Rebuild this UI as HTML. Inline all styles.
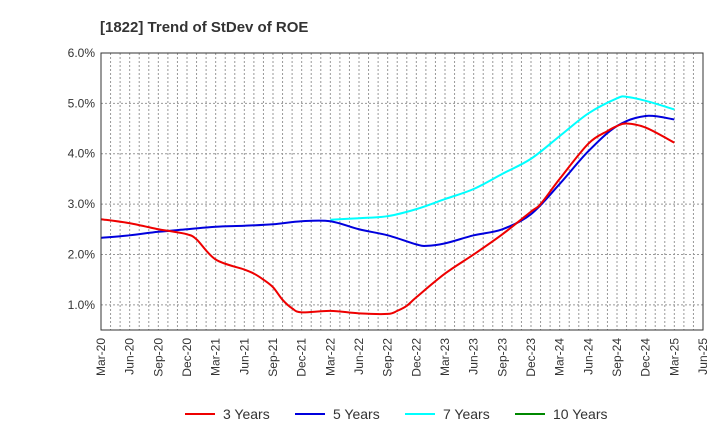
<!DOCTYPE html>
<html><head><meta charset="utf-8"><style>
body{margin:0;background:#fff;font-family:"Liberation Sans",Arial,sans-serif}
svg text{font-family:"Liberation Sans",Arial,sans-serif}
</style></head><body>
<svg id="chart" width="720" height="440">
<text x="100" y="32" font-size="15" font-weight="bold" fill="#333">[1822]  Trend of StDev of ROE</text>
<g id="grid"></g><g id="series"></g><g id="axes"></g>
<g id="legend"></g>
</svg>
<script>
const xLabels=["Mar-20","Jun-20","Sep-20","Dec-20","Mar-21","Jun-21","Sep-21","Dec-21","Mar-22","Jun-22","Sep-22","Dec-22","Mar-23","Jun-23","Sep-23","Dec-23","Mar-24","Jun-24","Sep-24","Dec-24","Mar-25","Jun-25"];
const yTicks=[1,2,3,4,5,6];
const m3=[0,3,6,7,9,10,12,15,16,17,18,19,20,21,24,27,30,31,32,33,36,39,42,45,46,48,51,53,54,55,57,60];
const v3=[2.70,2.62,2.50,2.47,2.40,2.30,1.90,1.70,1.62,1.50,1.35,1.10,0.93,0.85,0.88,0.83,0.82,0.88,0.98,1.15,1.62,2.00,2.40,2.85,3.00,3.50,4.20,4.45,4.55,4.60,4.52,4.22];
const m5=[0,3,6,9,12,15,18,21,24,27,30,33,34,36,39,42,45,48,51,54,57,60];
const v5=[2.33,2.38,2.45,2.50,2.55,2.57,2.60,2.66,2.66,2.50,2.38,2.20,2.17,2.22,2.38,2.50,2.80,3.40,4.05,4.55,4.75,4.68];
const m7=[24,27,30,33,36,39,42,45,48,51,54,55,57,60];
const v7=[2.69,2.72,2.76,2.90,3.10,3.30,3.60,3.90,4.35,4.80,5.10,5.13,5.05,4.88];
const L=101,R=703,T=53,B=330;
const X=m=>L+m*(R-L)/63, Y=v=>B-(v-0.5)*(B-T)/5.5;
const ns="http://www.w3.org/2000/svg";
function mk(t,a,p){const e=document.createElementNS(ns,t);for(const k in a)e.setAttribute(k,a[k]);p.appendChild(e);return e;}
const grid=document.getElementById('grid'),axes=document.getElementById('axes'),ser=document.getElementById('series'),leg=document.getElementById('legend');
for(let m=1;m<63;m++){const l=mk('line',{x1:X(m),x2:X(m),y1:T,y2:B,stroke:'#999','stroke-dasharray':'2,2','stroke-width':1},grid);

}
yTicks.forEach(v=>{const l=mk('line',{x1:L,x2:R,y1:Y(v),y2:Y(v),stroke:'#999','stroke-dasharray':'2,2'},grid);


const t=mk('text',{x:L-6,y:Y(v)+4,'text-anchor':'end','font-size':12,fill:'#333'},axes);t.textContent=v.toFixed(1)+'%';

});
const box=mk('rect',{x:L,y:T,width:R-L,height:B-T,fill:'none',stroke:'#333','stroke-width':1},axes);


xLabels.forEach((s,i)=>{const x=X(i*3)+4,y=B+8;const t=mk('text',{x:x,y:y,'text-anchor':'end','font-size':12,fill:'#333',transform:`rotate(-90 ${x} ${y})`},axes);t.textContent=s;

});
function path(ms,vs){const p=ms.map((m,i)=>[X(m),Y(vs[i])]);let d=`M${p[0][0]},${p[0][1]}`;
for(let i=0;i<p.length-1;i++){const p0=p[Math.max(0,i-1)],p1=p[i],p2=p[i+1],p3=p[Math.min(p.length-1,i+2)];
d+=` C${p1[0]+(p2[0]-p0[0])/6},${p1[1]+(p2[1]-p0[1])/6} ${p2[0]-(p3[0]-p1[0])/6},${p2[1]-(p3[1]-p1[1])/6} ${p2[0]},${p2[1]}`;}return d;}
function line(ms,vs,c,n){const e=mk('path',{d:path(ms,vs),fill:'none',stroke:c,'stroke-width':2},ser);

}
line(m7,v7,'#00ffff','line-7-years');
line(m5,v5,'#0000dd','line-5-years');
line(m3,v3,'#ee0000','line-3-years');
[['3 Years','#ee0000',185],['5 Years','#0000dd',295],['7 Years','#00ffff',405],['10 Years','#008800',515]].forEach(([s,c,x])=>{
const g=mk('g',{},leg);


mk('line',{x1:x,x2:x+30,y1:414,y2:414,stroke:c,'stroke-width':2},g);
const t=mk('text',{x:x+38,y:419,'font-size':14,fill:'#333'},g);t.textContent=s;});
</script>
</body></html>
